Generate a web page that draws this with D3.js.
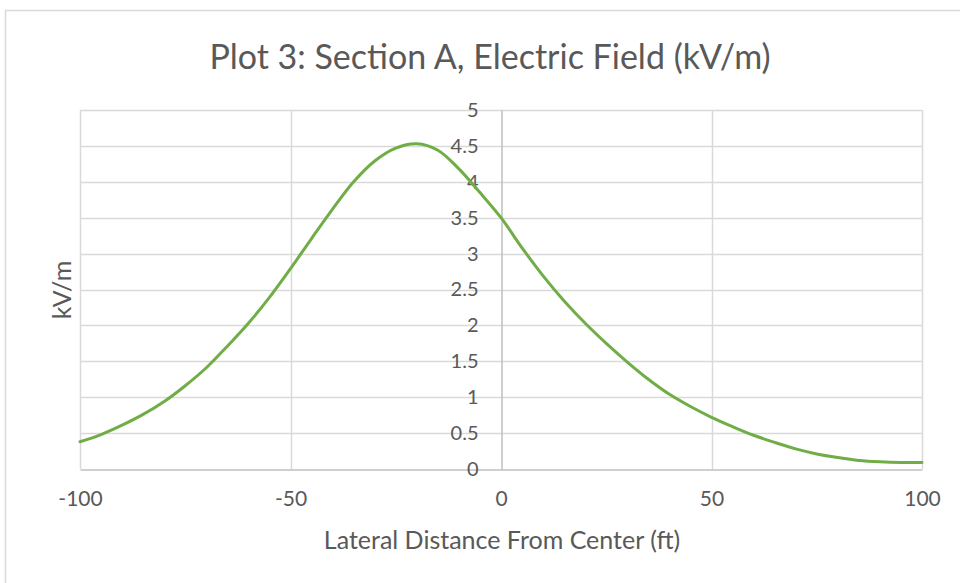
<!DOCTYPE html>
<html>
  <head>
    <meta charset="utf-8" />
    <title>Plot 3</title>
    <style>
      body{
        margin: 0;
        background-color: white;
      }
      text{
        font-family: Lato, "Open Sans", sans-serif;
        fill: #595959;
      }
    </style>
  </head>
  <body>
    <svg id="chart"></svg>
    <script src="https://d3js.org/d3.v7.min.js"></script>
    <script>

      // lateral distance (ft) and field strength (kV/m)
      var distance = [-100, -95, -90, -85, -80, -75, -70, -65, -60, -55, -50,
                      -45, -40, -35, -30, -25, -20, -15, -10, -5, 0,
                      5, 10, 15, 20, 25, 30, 35, 40, 45, 50,
                      55, 60, 65, 70, 75, 80, 85, 90, 95, 100];
      var field = [0.38, 0.48, 0.61, 0.76, 0.94, 1.16, 1.41, 1.71, 2.03, 2.39, 2.79,
                   3.21, 3.62, 4.00, 4.29, 4.47, 4.53, 4.44, 4.18, 3.85, 3.50,
                   3.08, 2.69, 2.34, 2.03, 1.75, 1.49, 1.25, 1.04, 0.87, 0.72,
                   0.59, 0.47, 0.37, 0.28, 0.21, 0.16, 0.12, 0.10, 0.09, 0.09];

      var x_ticks = [-100, -50, 0, 50, 100];
      var y_ticks = [0, 0.5, 1, 1.5, 2, 2.5, 3, 3.5, 4, 4.5, 5];

      var title = "Plot 3: Section A, Electric Field (kV/m)";
      var x_title = "Lateral Distance From Center (ft)";
      var y_title = "kV/m";

      var width = 960;
      var height = 583;

      var svg = d3.select("#chart")
                  .attr("width", width)
                  .attr("height", height);

      var points = distance.map(function(d, i){
        return {x: d, y: field[i]};
      });

      var x = d3.scaleLinear()
                .domain([-100, 100])
                .range([80, 922]);

      var y = d3.scaleLinear()
                .domain([0, 5])
                .range([469, 110]);

      // plain hyphen for negatives, like the original
      var fmt = function(d){ return String(d); };

      // chart area frame (runs off the right/bottom edge)
      svg.append("rect")
         .attr("x", 5.5)
         .attr("y", 10.5)
         .attr("width", 1000)
         .attr("height", 1000)
         .attr("fill", "white")
         .attr("stroke", "#d9d9d9")
         .attr("stroke-width", 1.5);

      // horizontal gridlines
      svg.append("g")
         .selectAll("line")
         .data(y_ticks.slice(1))
         .enter().append("line")
         .attr("x1", x(-100))
         .attr("x2", x(100))
         .attr("y1", function(d){ return Math.round(y(d)) + 0.5; })
         .attr("y2", function(d){ return Math.round(y(d)) + 0.5; })
         .attr("stroke", "#d9d9d9")
         .attr("stroke-width", 1.5);

      // vertical gridlines
      svg.append("g")
         .selectAll("line")
         .data(x_ticks.filter(function(d){ return d != 0; }))
         .enter().append("line")
         .attr("x1", function(d){ return Math.round(x(d)) + 0.5; })
         .attr("x2", function(d){ return Math.round(x(d)) + 0.5; })
         .attr("y1", y(5))
         .attr("y2", y(0))
         .attr("stroke", "#d9d9d9")
         .attr("stroke-width", 1.5);

      // x axis
      var x_axis = svg.append("g")
                      .attr("transform", "translate(0," + (Math.round(y(0)) + 0.5) + ")")
                      .call(d3.axisBottom(x)
                              .tickValues(x_ticks)
                              .tickSize(0)
                              .tickPadding(22)
                              .tickFormat(fmt));
      x_axis.select(".domain")
            .attr("stroke", "#bfbfbf")
            .attr("stroke-width", 1.5);
      x_axis.selectAll("text")
            .attr("font-size", "21px")
            .attr("fill", "#595959");

      // y axis sits at x = 0
      var y_axis = svg.append("g")
                      .attr("transform", "translate(" + (Math.round(x(0)) + 0.5) + ",0)")
                      .call(d3.axisLeft(y)
                              .tickValues(y_ticks)
                              .tickSize(0)
                              .tickPadding(23)
                              .tickFormat(fmt));
      y_axis.select(".domain")
            .attr("stroke", "#bfbfbf")
            .attr("stroke-width", 1.5);
      y_axis.selectAll("text")
            .attr("font-size", "20px")
            .attr("fill", "#595959");

      // the curve
      var line = d3.line()
                   .x(function(d){ return x(d.x); })
                   .y(function(d){ return y(d.y); })
                   .curve(d3.curveCatmullRom);

      svg.append("path")
         .datum(points)
         .attr("d", line)
         .attr("fill", "none")
         .attr("stroke", "#70ad47")
         .attr("stroke-width", 3)
         .attr("stroke-linejoin", "round")
         .attr("stroke-linecap", "round");

      // titles
      svg.append("text")
         .attr("x", 490)
         .attr("y", 57)
         .attr("dy", "0.35em")
         .attr("text-anchor", "middle")
         .attr("font-size", "34px")
         .text(title);

      svg.append("text")
         .attr("x", 502)
         .attr("y", 540)
         .attr("dy", "0.35em")
         .attr("text-anchor", "middle")
         .attr("font-size", "25px")
         .text(x_title);

      svg.append("text")
         .attr("transform", "translate(62,290)rotate(-90)")
         .attr("dy", "0.35em")
         .attr("text-anchor", "middle")
         .attr("font-size", "25px")
         .text(y_title);

    </script>
  </body>
</html>
